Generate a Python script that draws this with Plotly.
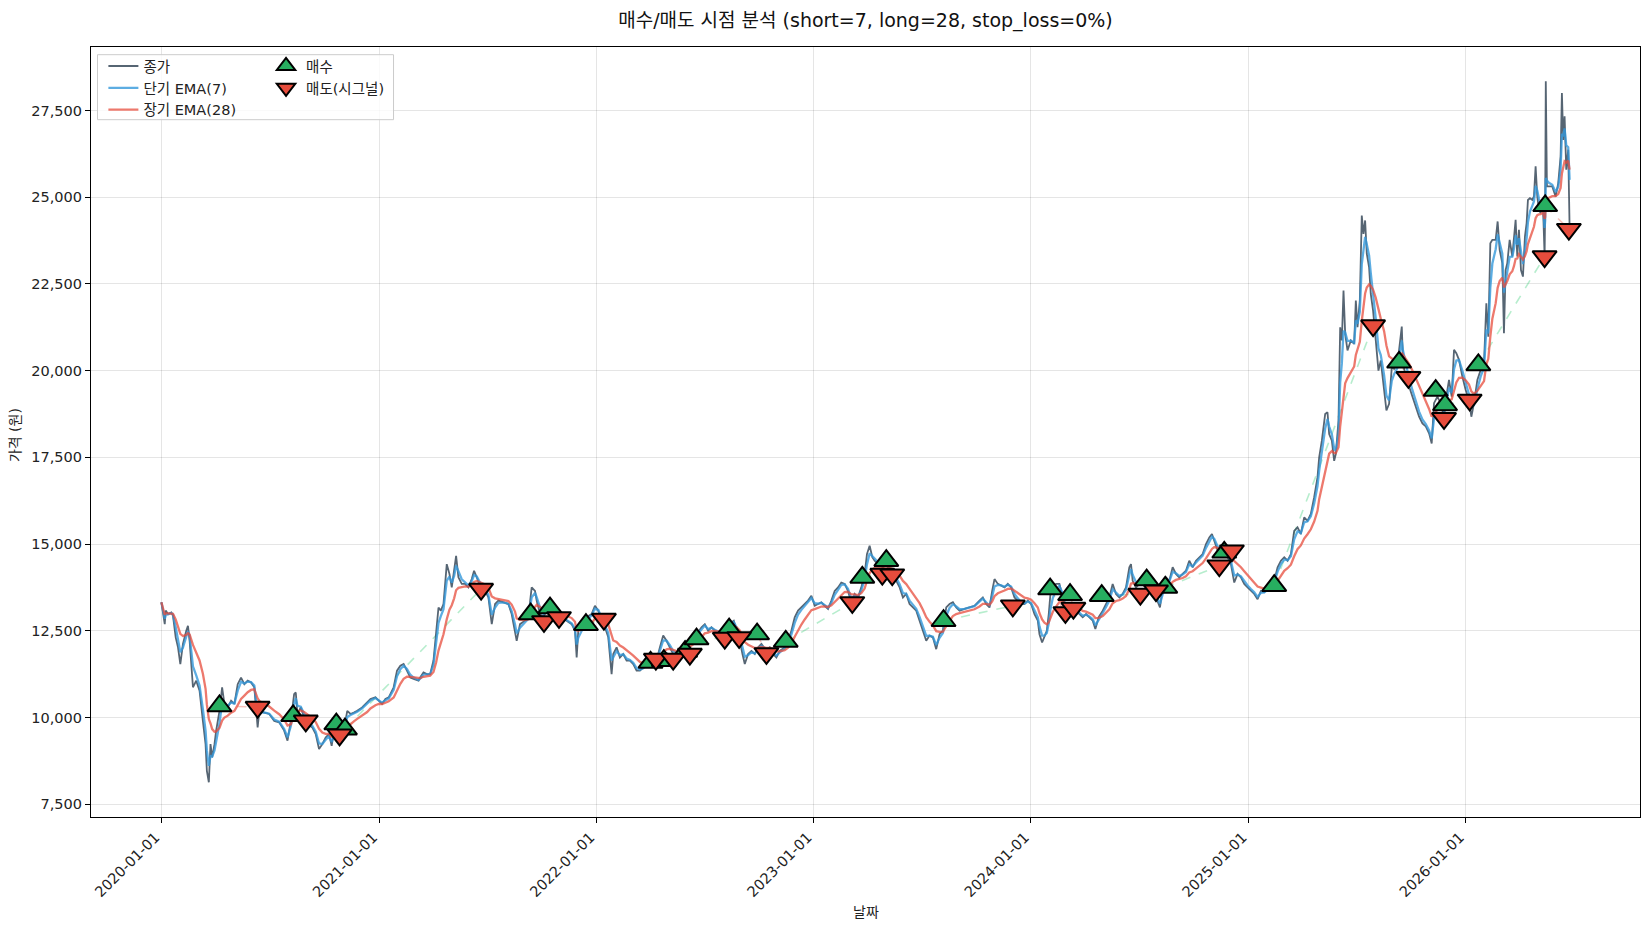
import math
import pandas as pd
import plotly.graph_objects as go

START = "2020-01-01"

# ---- close price readings (days since 2020-01-01, price in won) ----
days_2020 = [0, 5.6, 7.2, 11.2, 16.7, 19.5, 24.0, 27.9, 31.8, 36.2,
             41.8, 44.6, 47.4, 53.0, 58.5, 64.1, 69.7, 74.2, 76.4, 79.7,
             82.5, 85.3, 89.2, 92.0, 97.6, 102.0, 105.9, 111.5, 117.1, 122.7,
             128.2, 133.8, 139.4, 145.0, 150.6, 156.1, 161.7, 164.5, 172.9, 181.2,
             189.6, 197.9, 206.3, 211.9, 217.5, 223.0, 225.8, 228.6, 234.2, 239.8,
             245.3, 253.7, 259.3, 264.9, 270.4, 276.0, 281.6, 286.1, 290.0, 295.5,
             301.1, 306.7, 312.3, 317.8, 323.4, 329.0, 337.3, 345.7, 351.3, 359.6,
             365.2, 370.8, 376.4, 382.0, 390.3, 395.9, 401.5, 407.0, 412.6, 418.2,
             423.8, 432.1]
close_2020 = [13320, 12690, 13080, 12980, 13030, 12930, 12310, 12020, 11540, 12120,
              12500, 12640, 12210, 10870, 11060, 10770, 9900, 9230, 8460, 8130,
              9230, 8850, 9230, 9620, 10190, 10870, 10390, 10290, 10480, 10390,
              10960, 11150, 10960, 11060, 11010, 10870, 9710, 10190, 10140, 10100,
              9900, 9860, 9620, 9330, 9900, 10670, 10720, 10100, 10290, 10000,
              9810, 9710, 9520, 9090, 9230, 9420, 9520, 9180, 9620, 9710,
              9620, 9660, 10190, 10100, 10140, 10190, 10290, 10430, 10530, 10580,
              10480, 10390, 10530, 10580, 10870, 11350, 11490, 11540, 11350, 11150,
              11110, 11060]

days_2021 = [434.8, 440.4, 446.0, 451.6, 457.2, 461.6, 465.6, 469.5, 474.0, 479.5,
             484.0, 487.9, 491.9, 495.2, 499.1, 504.7, 510.3, 515.9, 521.5, 525.4,
             529.9, 536.6, 543.9, 549.5, 555.1, 560.7, 566.3, 574.7, 583.1, 588.6,
             594.2, 597.0, 602.6, 611.0, 616.6, 622.2, 627.8, 630.6, 636.2, 641.8,
             647.4, 653.0, 658.6, 664.2, 672.6, 681.0, 689.4, 695.0, 697.8, 700.5,
             706.1, 714.5, 722.9, 728.5, 734.1, 739.7, 745.3, 750.9, 756.5, 759.3,
             764.9, 770.5, 776.1, 781.7, 787.3, 792.9, 798.5, 804.1, 809.7, 815.2,
             820.8, 832.0, 837.6, 843.2, 848.8, 854.4, 860.0]
close_2021 = [11150, 11300, 11250, 11250, 11640, 12500, 13170, 13080, 13270, 14420,
              14140, 13750, 14230, 14660, 14040, 13850, 13850, 13750, 13990, 14230,
              14040, 13750, 13650, 13460, 12690, 13270, 13370, 13320, 13270, 12980,
              12500, 12210, 12690, 12790, 12890, 13750, 13650, 13370, 12980, 12890,
              13080, 13170, 12980, 12890, 12890, 12790, 12690, 12500, 11730, 12500,
              12600, 12890, 12980, 13220, 13080, 12790, 12600, 12310, 11250, 11830,
              12020, 11730, 11830, 11640, 11640, 11540, 11350, 11350, 11440, 11540,
              11540, 11640, 12020, 12360, 12210, 12020, 11830]

days_2022 = [865.6, 874.0, 882.4, 890.8, 899.2, 907.6, 913.1, 918.7, 924.3, 929.9,
             935.5, 943.9, 952.3, 957.9, 961.8, 966.4, 971.9, 976.4, 980.3, 985.9,
             991.5, 997.1, 1002.7, 1008.3, 1016.7, 1022.3, 1027.8, 1033.4, 1039.0, 1047.4,
             1053.0, 1058.6, 1064.2, 1069.8, 1075.4, 1081.0, 1086.6, 1092.2, 1097.8, 1103.4,
             1109.0, 1114.6, 1120.2, 1125.8, 1131.4, 1137.0, 1142.5, 1148.1, 1153.7, 1159.3,
             1164.9, 1170.5, 1176.1, 1181.7, 1185.6, 1190.1, 1194.6, 1198.5, 1204.1, 1212.5,
             1218.1, 1223.7, 1229.3, 1234.9, 1240.5, 1246.1, 1251.6, 1257.2, 1262.8, 1268.4,
             1274.0, 1279.6, 1285.2, 1290.8, 1296.4, 1302.0, 1307.6]
close_2022 = [11830, 12020, 12120, 12260, 12400, 12600, 12690, 12500, 12600, 12500,
              12450, 12500, 12600, 12740, 12790, 12500, 12210, 11830, 11540, 11830,
              11920, 11830, 12020, 12120, 11920, 12020, 11830, 11730, 11920, 12020,
              12210, 12500, 12890, 13080, 13170, 13270, 13370, 13510, 13220, 13270,
              13320, 13220, 13130, 13370, 13650, 13750, 13890, 13850, 13650, 13300,
              13560, 13460, 13750, 14140, 14710, 14950, 14620, 14520, 14420, 14330,
              14420, 14230, 14140, 13940, 13750, 13460, 13560, 13270, 13170, 13080,
              12790, 12500, 12210, 12360, 12310, 11970, 12400]

days_2023 = [1313.2, 1318.8, 1324.4, 1330.0, 1335.6, 1341.2, 1349.6, 1357.9, 1366.3, 1374.7,
             1380.3, 1385.9, 1391.5, 1396.0, 1399.9, 1405.5, 1411.1, 1416.7, 1422.3, 1427.9,
             1433.5, 1439.1, 1444.7, 1450.3, 1455.9, 1461.5, 1467.1, 1472.7, 1475.5, 1479.9,
             1483.8, 1487.8, 1491.1, 1493.9, 1497.8, 1503.4, 1509.0, 1514.6, 1520.2, 1525.8,
             1531.4, 1537.0, 1542.6, 1548.2, 1553.8, 1559.4, 1565.0, 1569.4, 1575.0, 1581.8,
             1587.4, 1592.9, 1598.5, 1604.1, 1609.7, 1615.3, 1620.9, 1626.5, 1629.3, 1632.1,
             1637.7, 1643.3, 1648.9, 1654.5, 1660.1, 1665.7, 1671.3, 1678.0, 1682.5, 1688.1,
             1693.7, 1699.3, 1704.8, 1710.4, 1716.0, 1721.6, 1727.2]
close_2023 = [12500, 13170, 13270, 13320, 13170, 13080, 13130, 13170, 13220, 13370,
              13460, 13270, 13170, 13650, 13990, 13850, 13800, 13750, 13850, 13750,
              13460, 13370, 13270, 13270, 13370, 13270, 12980, 12790, 12400, 12160,
              12360, 12500, 12980, 13560, 13750, 13850, 13850, 13460, 12890, 13080,
              13170, 13080, 12980, 12890, 12980, 12890, 12790, 12550, 12890, 13080,
              13270, 13460, 13850, 13560, 13460, 13560, 13750, 14330, 14420, 13940,
              13750, 13850, 13940, 14040, 13750, 13650, 13460, 13170, 13750, 14040,
              13940, 14330, 14140, 14040, 14140, 14230, 14520]

days_2024 = [1732.9, 1738.5, 1744.1, 1749.7, 1755.3, 1760.9, 1765.3, 1769.3, 1774.9, 1780.5,
             1786.0, 1791.6, 1797.2, 1802.8, 1808.4, 1814.0, 1819.6, 1825.2, 1830.8, 1836.4,
             1842.0, 1847.6, 1853.2, 1861.6, 1870.0, 1875.6, 1881.2, 1886.8, 1892.4, 1898.0,
             1903.5, 1909.1, 1914.7, 1920.3, 1925.9, 1931.5, 1937.1, 1942.7, 1945.5, 1950.0,
             1955.6, 1959.5, 1962.3, 1966.8, 1970.7, 1973.5, 1978.0, 1980.8, 1983.6, 1986.4,
             1989.2, 1993.1, 1998.7, 2004.3, 2007.1, 2009.9, 2013.8, 2017.1, 2019.9, 2022.7,
             2025.5, 2029.4, 2032.2, 2036.1, 2040.6, 2045.1, 2049.0, 2054.6, 2058.5, 2063.0,
             2067.5, 2071.4, 2077.0]
close_2024 = [14330, 14520, 14620, 14710, 15000, 15190, 15290, 15100, 14810, 14710,
              14810, 14620, 14420, 13890, 14140, 14040, 13850, 13750, 13650, 13560,
              13410, 13650, 13610, 13750, 13940, 14330, 14520, 14620, 14520, 14710,
              15380, 15480, 15290, 15770, 15670, 15870, 16350, 16920, 17500, 17980,
              18750, 18800, 18170, 17980, 17400, 17600, 18560, 21250, 20870, 22310,
              21060, 20580, 20870, 20770, 22020, 21250, 22020, 24470, 23940, 24330,
              23370, 22980, 22210, 21730, 20870, 20000, 20290, 19520, 18850, 19040,
              20100, 20050, 20190]

days_2025 = [2079.8, 2084.3, 2086.5, 2091.0, 2096.6, 2102.2, 2107.8, 2113.4, 2119.0, 2124.6,
             2130.2, 2134.6, 2138.5, 2144.1, 2149.7, 2155.3, 2160.9, 2163.7, 2168.2, 2172.1,
             2176.0, 2180.5, 2186.1, 2191.7, 2197.3, 2201.2, 2205.7, 2211.3, 2216.9, 2222.5,
             2226.4, 2229.7, 2233.1, 2236.5, 2242.1, 2245.4, 2248.8, 2253.2, 2256.0, 2258.8,
             2261.6, 2265.6, 2270.0, 2272.8, 2275.6, 2278.4, 2281.2, 2284.6, 2287.9, 2291.3,
             2294.1, 2296.3, 2299.7, 2303.6, 2306.4, 2309.2, 2312.0, 2314.8, 2317.6, 2321.5,
             2324.3, 2325.3, 2326.3, 2328.2, 2331.6, 2337.2, 2342.8, 2347.2, 2351.2, 2353.4,
             2355.6, 2357.9, 2360.7, 2364.0, 2366.3]
close_2025 = [20600, 21270, 20210, 19830, 19540, 19250, 18960, 18670, 18480, 18390,
              18190, 17900, 19060, 19250, 19060, 18700, 19440, 19730, 19250, 20600,
              20500, 20310, 19830, 19440, 19150, 18670, 19060, 19730, 20020, 20210,
              21940, 20980, 23670, 23770, 23770, 24300, 23480, 23100, 21080, 22900,
              23100, 23770, 23290, 23770, 24350, 23290, 24060, 22900, 22710, 23870,
              24250, 24920, 24970, 24920, 25020, 25890, 25020, 24640, 24540, 24830,
              23290, 24750, 28340, 25310, 25310, 25310, 25020, 25400, 26170, 28000,
              26650, 27330, 25790, 26370, 24150]

# ---- signals ----
buy_days = [97.6, 221.4, 293.9, 308.4, 620.5, 653.0, 713.4, 822.0, 844.3, 880.0,
            899.2, 954.0, 1001.0, 1049.1, 1177.8, 1218.1, 1314.3, 1493.4, 1526.9, 1580.1,
            1655.6, 1686.9, 1786.0, 1870.0, 2079.8, 2141.3, 2157.0, 2213.0, 2325.3]
buy_prices = [10330, 10048, 9808, 9663, 12981, 13154, 12673, 11587, 11635, 11900,
              12260, 12548, 12404, 12192, 14038, 14519, 12788, 13702, 13538, 13510,
              13962, 13750, 14760, 13798, 20240, 19423, 19010, 20164, 24750]
sell_days = [161.7, 242.6, 299.4, 537.2, 642.9, 668.1, 743.6, 830.9, 860.0, 888.0,
             946.7, 970.8, 1016.7, 1161.0, 1211.4, 1228.1, 1430.7, 1519.1, 1532.5, 1645.0,
             1671.3, 1777.7, 1798.9, 2036.1, 2095.5, 2155.3, 2198.4, 2324.3, 2365.1]
sell_prices = [10300, 9904, 9500, 13702, 12769, 12885, 12837, 11683, 11683, 11827,
               12288, 12308, 11846, 13317, 14135, 14115, 13221, 13029, 13154, 13558,
               13654, 14375, 14808, 21298, 19808, 18625, 19154, 23288, 24077]

SHORT_SPAN, LONG_SPAN = 7, 28
y_ticks = [7500, 10000, 12500, 15000, 17500, 20000, 22500, 25000, 27500]
x_tick_dates = ["2020-01-01", "2021-01-01", "2022-01-01", "2023-01-01",
                "2024-01-01", "2025-01-01", "2026-01-01"]

# ---- assemble ----
segs = [(days_2020, close_2020), (days_2021, close_2021), (days_2022, close_2022),
        (days_2023, close_2023), (days_2024, close_2024), (days_2025, close_2025)]
all_days, all_close = [], []
for d, c in segs:
    assert len(d) == len(c), (len(d), len(c))
    all_days += d
    all_close += c
assert len(buy_days) == len(buy_prices) and len(sell_days) == len(sell_prices)

t0 = pd.Timestamp(START)
def to_dt(days):
    return t0 + pd.to_timedelta(pd.Series(days, dtype=float), unit="D")

dates = to_dt(all_days)
close = pd.Series(all_close, index=pd.DatetimeIndex(dates), dtype=float)

def ema(span):
    # EMA over trading days, expressed as a calendar-time half-life
    alpha = 2.0 / (span + 1)
    hl_trading = math.log(0.5) / math.log(1 - alpha)
    hl_days = hl_trading * 365.25 / 252
    return close.ewm(halflife=pd.Timedelta(days=hl_days), times=close.index).mean()

ema_short = ema(SHORT_SPAN)
ema_long = ema(LONG_SPAN)

buy_dt = to_dt(buy_days)
sell_dt = to_dt(sell_days)

# trades: pair each buy with the following sell
events = sorted([(d, "B", p, dt) for d, p, dt in zip(buy_days, buy_prices, buy_dt)] +
                [(d, "S", p, dt) for d, p, dt in zip(sell_days, sell_prices, sell_dt)],
                key=lambda e: e[0])
win_x, win_y, loss_x, loss_y = [], [], [], []
open_b = None
for e in events:
    if e[1] == "B" and open_b is None:
        open_b = e
    elif e[1] == "S" and open_b is not None:
        if e[2] >= open_b[2]:
            win_x += [open_b[3], e[3], None]; win_y += [open_b[2], e[2], None]
        else:
            loss_x += [open_b[3], e[3], None]; loss_y += [open_b[2], e[2], None]
        open_b = None

FONT = "DejaVu Sans, Noto Sans CJK KR, sans-serif"
TXT = "#222222"
fig = go.Figure()
fig.add_trace(go.Scatter(x=win_x, y=win_y, mode="lines", showlegend=False, hoverinfo="skip",
                         line=dict(color="rgba(46,204,113,0.35)", width=1.6, dash="dash")))
fig.add_trace(go.Scatter(x=loss_x, y=loss_y, mode="lines", showlegend=False, hoverinfo="skip",
                         line=dict(color="rgba(231,76,60,0.35)", width=1.6, dash="dash")))
fig.add_trace(go.Scatter(x=close.index, y=close.values, mode="lines", name="종가",
                         line=dict(color="rgba(44,62,80,0.8)", width=1.8), legend="legend"))
fig.add_trace(go.Scatter(x=ema_short.index, y=ema_short.values, mode="lines", name="단기 EMA(7)",
                         line=dict(color="rgba(52,152,219,0.8)", width=2.3), legend="legend"))
fig.add_trace(go.Scatter(x=ema_long.index, y=ema_long.values, mode="lines", name="장기 EMA(28)",
                         line=dict(color="rgba(231,76,60,0.75)", width=2.3), legend="legend"))
fig.add_trace(go.Scatter(x=buy_dt, y=buy_prices, mode="markers", name="매수", legend="legend2",
                         marker=dict(symbol="triangle-up", size=21, color="#27ae60",
                                     line=dict(color="black", width=2))))
fig.add_trace(go.Scatter(x=sell_dt, y=sell_prices, mode="markers", name="매도(시그널)", legend="legend2",
                         marker=dict(symbol="triangle-down", size=21, color="#e74c3c",
                                     line=dict(color="black", width=2))))

span = max(all_days) - min(all_days)
x_range = [t0 + pd.Timedelta(days=min(all_days) - 0.05 * span),
           t0 + pd.Timedelta(days=max(all_days) + 0.05 * span)]

axis_common = dict(showline=True, linecolor="black", linewidth=1.2, mirror=True,
                   ticks="outside", ticklen=5, tickcolor="black", tickwidth=1,
                   showgrid=True, gridcolor="rgba(0,0,0,0.1)", gridwidth=1, zeroline=False)
fig.update_xaxes(range=x_range, tickvals=pd.to_datetime(x_tick_dates),
                 ticktext=x_tick_dates, tickangle=-45, ticklabelshift=-6,
                 tickfont=dict(family=FONT, size=14.5, color=TXT), **axis_common)
fig.update_yaxes(range=[7130, 29330], tickvals=y_ticks,
                 ticktext=[f"{v:,}" for v in y_ticks],
                 tickfont=dict(family=FONT, size=14.5, color=TXT), **axis_common)

fig.update_layout(
    width=1650, height=930,
    margin=dict(l=91, r=10, t=47, b=113),
    paper_bgcolor="white", plot_bgcolor="white",
    font=dict(family=FONT, size=14, color=TXT),
    title=dict(text="매수/매도 시점 분석 (short=7, long=28, stop_loss=0%)",
               x=0.5, xref="paper", xanchor="center", y=1 - 20 / 930, yref="container",
               yanchor="middle", font=dict(family=FONT, size=19, color="#111111")),
    legend=dict(x=0.008, y=0.996, xanchor="left", yanchor="top", bgcolor="rgba(0,0,0,0)",
                font=dict(family=FONT, size=14.5, color=TXT), tracegroupgap=0),
    legend2=dict(x=0.113, y=0.996, xanchor="left", yanchor="top", bgcolor="rgba(0,0,0,0)",
                 font=dict(family=FONT, size=14.5, color=TXT), tracegroupgap=0),
    shapes=[dict(type="rect", xref="paper", yref="paper", x0=0.0042, x1=0.1953,
                 y0=0.9056, y1=0.990, line=dict(color="#cccccc", width=1),
                 fillcolor="rgba(255,255,255,0.8)", layer="above")],
    annotations=[
        dict(text="날짜", xref="paper", yref="paper", x=0.5, y=-0.124, showarrow=False,
             xanchor="center", yanchor="middle", font=dict(family=FONT, size=14, color=TXT)),
        dict(text="가격 (원)", xref="paper", yref="paper", x=-0.0494, y=0.4966, showarrow=False,
             textangle=-90, xanchor="center", yanchor="middle",
             font=dict(family=FONT, size=14, color=TXT)),
    ],
    showlegend=True,
)

fig.write_html("out.html")
